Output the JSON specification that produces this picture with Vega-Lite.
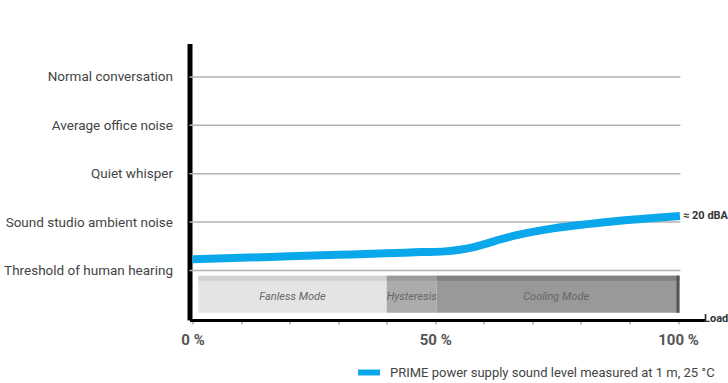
{
  "$schema": "https://vega.github.io/schema/vega-lite/v6.json",
  "autosize": "none",
  "width": 515.5,
  "height": 276.5,
  "padding": {"left": 189.5, "top": 43.5, "right": 23, "bottom": 63},
  "background": "white",
  "config": {
    "view": {"stroke": null},
    "font": "Roboto, Liberation Sans, sans-serif"
  },
  "resolve": {"scale": {"color": "independent"}},
  "datasets": {
    "grid": [
      {"level": 0, "x0": -0.62, "x1": 100.5},
      {"level": 1, "x0": -0.62, "x1": 100.5},
      {"level": 2, "x0": -0.62, "x1": 100.5},
      {"level": 3, "x0": -0.62, "x1": 100.5},
      {"level": 4, "x0": -0.62, "x1": 100.5}
    ],
    "modes": [
      {"mode": "Fanless Mode", "start": 1.2, "end": 40.0, "top": -0.107, "bottom": -0.872, "mid": 20.6, "mlevel": -0.49},
      {"mode": "Hysteresis", "start": 40.0, "end": 50.3, "top": -0.107, "bottom": -0.872, "mid": 45.15, "mlevel": -0.49},
      {"mode": "Cooling Mode", "start": 50.3, "end": 100.3, "top": -0.107, "bottom": -0.872, "mid": 74.9, "mlevel": -0.49}
    ],
    "curve": [
      {"load": 0, "level": 0.231, "series": "PRIME power supply sound level measured at 1 m, 25 °C"},
      {"load": 10, "level": 0.262, "series": "PRIME power supply sound level measured at 1 m, 25 °C"},
      {"load": 20, "level": 0.293, "series": "PRIME power supply sound level measured at 1 m, 25 °C"},
      {"load": 30, "level": 0.324, "series": "PRIME power supply sound level measured at 1 m, 25 °C"},
      {"load": 40, "level": 0.355, "series": "PRIME power supply sound level measured at 1 m, 25 °C"},
      {"load": 46.9, "level": 0.38, "series": "PRIME power supply sound level measured at 1 m, 25 °C"},
      {"load": 52, "level": 0.395, "series": "PRIME power supply sound level measured at 1 m, 25 °C"},
      {"load": 55.1, "level": 0.43, "series": "PRIME power supply sound level measured at 1 m, 25 °C"},
      {"load": 58.2, "level": 0.49, "series": "PRIME power supply sound level measured at 1 m, 25 °C"},
      {"load": 60.7, "level": 0.56, "series": "PRIME power supply sound level measured at 1 m, 25 °C"},
      {"load": 63.3, "level": 0.64, "series": "PRIME power supply sound level measured at 1 m, 25 °C"},
      {"load": 67.5, "level": 0.745, "series": "PRIME power supply sound level measured at 1 m, 25 °C"},
      {"load": 74.3, "level": 0.87, "series": "PRIME power supply sound level measured at 1 m, 25 °C"},
      {"load": 81.3, "level": 0.958, "series": "PRIME power supply sound level measured at 1 m, 25 °C"},
      {"load": 88, "level": 1.029, "series": "PRIME power supply sound level measured at 1 m, 25 °C"},
      {"load": 94.9, "level": 1.085, "series": "PRIME power supply sound level measured at 1 m, 25 °C"},
      {"load": 100.4, "level": 1.126, "series": "PRIME power supply sound level measured at 1 m, 25 °C"}
    ],
    "notes": [
      {"text": "≈ 20 dBA", "x": 100.4, "level": 1.126}
    ],
    "axisnote": [
      {"text": "Load", "x": 105.56, "level": -1.0}
    ]
  },
  "layer": [
    {
      "data": {"name": "grid"},
      "mark": {"type": "rule", "color": "#b3b3b3", "strokeWidth": 1.5},
      "encoding": {
        "x": {"field": "x0", "type": "quantitative", "scale": {"domain": [-0.62, 105.56], "nice": false, "zero": false},
          "axis": {
            "values": [0, 10, 20, 30, 40, 50, 60, 70, 80, 90, 100],
            "labelExpr": "datum.value % 50 === 0 ? datum.value + ' %' : ''",
            "title": null,
            "grid": false,
            "domainColor": "#000000",
            "domainWidth": 3,
            "tickColor": "#777777",
            "tickWidth": 1,
            "tickSize": 4,
            "labelFontSize": 15,
            "labelFontWeight": "bold",
            "labelColor": "#555555",
            "labelPadding": 8,
            "labelFlush": false
          }},
        "x2": {"field": "x1"},
        "y": {"field": "level", "type": "quantitative", "scale": {"domain": [-1.023, 4.69], "nice": false, "zero": false},
          "axis": {
            "values": [0, 1, 2, 3, 4],
            "labelExpr": "['Threshold of human hearing','Sound studio ambient noise','Quiet whisper','Average office noise','Normal conversation'][datum.value]",
            "title": null,
            "grid": false,
            "ticks": false,
            "domainColor": "#000000",
            "domainWidth": 5,
            "labelFontSize": 13.5,
            "labelColor": "#444444",
            "labelPadding": 17,
            "labelLimit": 300
          }}
      }
    },
    {
      "data": {"name": "modes"},
      "mark": {"type": "rect"},
      "encoding": {
        "x": {"field": "start", "type": "quantitative"},
        "x2": {"field": "end"},
        "y": {"field": "top", "type": "quantitative"},
        "y2": {"field": "bottom"},
        "color": {"field": "mode", "type": "nominal", "legend": null,
          "scale": {"domain": ["Fanless Mode", "Hysteresis", "Cooling Mode"], "range": ["#e4e4e4", "#ababab", "#999999"]}}
      }
    },
    {
      "data": {"name": "modes"},
      "mark": {"type": "rect", "y2Offset": 5},
      "encoding": {
        "x": {"field": "start", "type": "quantitative"},
        "x2": {"field": "end"},
        "y": {"field": "top", "type": "quantitative"},
        "y2": {"field": "top"},
        "color": {"field": "mode", "type": "nominal", "legend": null,
          "scale": {"domain": ["Fanless Mode", "Hysteresis", "Cooling Mode"], "range": ["#d2d2d2", "#9b9b9b", "#808080"]}}
      }
    },
    {
      "data": {"name": "modes"},
      "transform": [{"filter": "datum.mode === 'Cooling Mode'"}],
      "mark": {"type": "rect", "color": "#555555", "xOffset": -3},
      "encoding": {
        "x": {"field": "end", "type": "quantitative"},
        "x2": {"field": "end"},
        "y": {"field": "top", "type": "quantitative"},
        "y2": {"field": "bottom"}
      }
    },
    {
      "data": {"name": "modes"},
      "mark": {"type": "text", "fontStyle": "italic", "fontSize": 11, "color": "#666666", "dy": 3},
      "encoding": {
        "x": {"field": "mid", "type": "quantitative"},
        "y": {"field": "mlevel", "type": "quantitative"},
        "text": {"field": "mode"}
      }
    },
    {
      "data": {"name": "curve"},
      "mark": {"type": "line", "strokeWidth": 8, "interpolate": "monotone", "strokeCap": "butt"},
      "encoding": {
        "x": {"field": "load", "type": "quantitative"},
        "y": {"field": "level", "type": "quantitative"},
        "color": {"field": "series", "type": "nominal",
          "scale": {"domain": ["PRIME power supply sound level measured at 1 m, 25 °C"], "range": ["#0aa8ea"]},
          "legend": {
            "title": null,
            "orient": "none",
            "legendX": 168.5,
            "legendY": 318,
            "symbolType": "M-1,-0.27H1V0.27H-1Z",
            "symbolSize": 484,
            "symbolFillColor": "#0aa8ea",
            "symbolStrokeColor": "#0aa8ea",
            "symbolStrokeWidth": 0,
            "labelFontSize": 13,
            "labelColor": "#444444",
            "labelOffset": 10,
            "labelLimit": 400
          }}
      }
    },
    {
      "data": {"name": "notes"},
      "mark": {"type": "text", "align": "left", "baseline": "middle", "fontWeight": "bold", "fontSize": 11, "color": "#333333", "dx": 3},
      "encoding": {
        "x": {"field": "x", "type": "quantitative"},
        "y": {"field": "level", "type": "quantitative"},
        "text": {"field": "text"}
      }
    },
    {
      "data": {"name": "axisnote"},
      "mark": {"type": "text", "align": "left", "baseline": "middle", "fontWeight": "bold", "fontSize": 11, "color": "#333333", "dx": -1},
      "encoding": {
        "x": {"field": "x", "type": "quantitative"},
        "y": {"field": "level", "type": "quantitative"},
        "text": {"field": "text"}
      }
    }
  ]
}
